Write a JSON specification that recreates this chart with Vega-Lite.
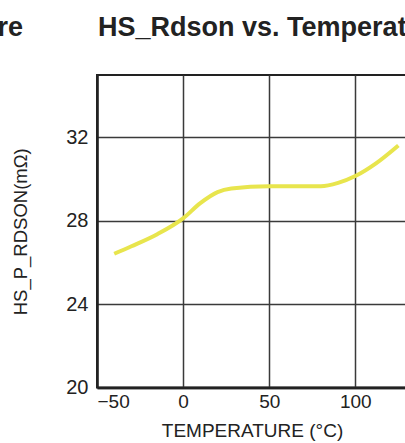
{
  "$schema": "https://vega.github.io/schema/vega-lite/v6.json",
  "autosize": {"type": "none"},
  "padding": {"left": 97, "top": 75, "right": 0, "bottom": 56},
  "width": 310,
  "height": 312.5,
  "background": "white",
  "title": {
    "text": "re\u00a0\u00a0\u00a0\u00a0\u00a0\u00a0\u00a0\u00a0\u00a0\u00a0HS_Rdson vs. Temperature",
    "anchor": "start",
    "frame": "group",
    "dx": -99.5,
    "font": "Liberation Sans",
    "fontSize": 27,
    "fontWeight": "bold",
    "color": "#222222",
    "baseline": "alphabetic",
    "offset": 12
  },
  "config": {
    "view": {"stroke": "#222222", "strokeWidth": 2},
    "axis": {
      "labelFont": "Liberation Sans",
      "titleFont": "Liberation Sans",
      "labelColor": "#222222",
      "titleColor": "#222222",
      "titleFontWeight": "normal",
      "gridColor": "#3a3a3a",
      "gridWidth": 1.5,
      "gridOpacity": 1,
      "domainColor": "#222222",
      "domainWidth": 2.5,
      "ticks": false
    }
  },
  "data": {
    "values": [
      {"temp": -40, "rdson": 26.42},
      {"temp": -30, "rdson": 26.78},
      {"temp": -15, "rdson": 27.36},
      {"temp": 0, "rdson": 28.12},
      {"temp": 10, "rdson": 28.85},
      {"temp": 20, "rdson": 29.38},
      {"temp": 28, "rdson": 29.55},
      {"temp": 50, "rdson": 29.66},
      {"temp": 80, "rdson": 29.66},
      {"temp": 90, "rdson": 29.82},
      {"temp": 100, "rdson": 30.15},
      {"temp": 112, "rdson": 30.76},
      {"temp": 125, "rdson": 31.62}
    ]
  },
  "mark": {"type": "line", "color": "#E8E54D", "strokeWidth": 4, "interpolate": "monotone"},
  "encoding": {
    "x": {
      "field": "temp",
      "type": "quantitative",
      "scale": {"domain": [-50, 130], "nice": false},
      "axis": {
        "values": [-50, 0, 50, 100],
        "title": "TEMPERATURE (°C)",
        "labelFontSize": 19,
        "titleFontSize": 19,
        "labelPadding": 5,
        "titlePadding": 10
      }
    },
    "y": {
      "field": "rdson",
      "type": "quantitative",
      "scale": {"domain": [20, 35], "nice": false},
      "axis": {
        "values": [20, 24, 28, 32],
        "title": "HS_P_RDSON(mΩ)",
        "labelFontSize": 20,
        "titleFontSize": 18.5,
        "labelPadding": 9,
        "titlePadding": 35
      }
    }
  }
}
